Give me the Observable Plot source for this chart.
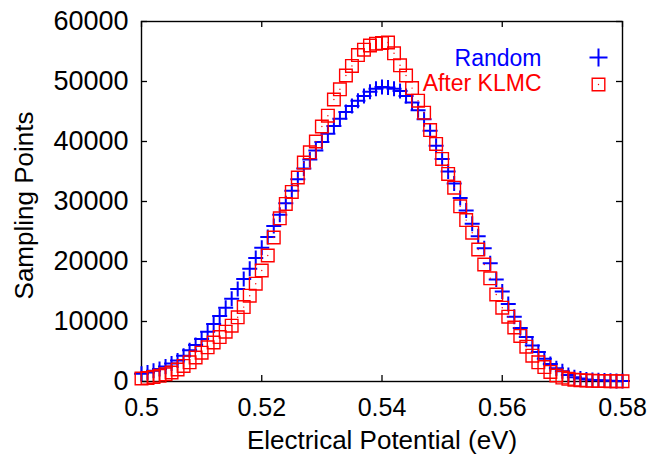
<!DOCTYPE html>
<html>
<head>
<meta charset="utf-8">
<script src="https://cdn.jsdelivr.net/npm/d3@7"></script>
<script src="https://cdn.jsdelivr.net/npm/@observablehq/plot@0.6"></script>
<style>
  html, body { margin: 0; padding: 0; background: #fff; }
</style>
</head>
<body>
<div id="chart"></div>
<script>
const potential = [
  0.500, 0.501, 0.502, 0.503, 0.504, 0.505, 0.506, 0.507, 0.508, 0.509,
  0.510, 0.511, 0.512, 0.513, 0.514, 0.515, 0.516, 0.517, 0.518, 0.519,
  0.520, 0.521, 0.522, 0.523, 0.524, 0.525, 0.526, 0.527, 0.528, 0.529,
  0.530, 0.531, 0.532, 0.533, 0.534, 0.535, 0.536, 0.537, 0.538, 0.539,
  0.540, 0.541, 0.542, 0.543, 0.544, 0.545, 0.546, 0.547, 0.548, 0.549,
  0.550, 0.551, 0.552, 0.553, 0.554, 0.555, 0.556, 0.557, 0.558, 0.559,
  0.560, 0.561, 0.562, 0.563, 0.564, 0.565, 0.566, 0.567, 0.568, 0.569,
  0.570, 0.571, 0.572, 0.573, 0.574, 0.575, 0.576, 0.577, 0.578, 0.579,
  0.580
];
const randomPoints = [
  1300, 1500, 1800, 2100, 2500, 3000, 3500, 4300, 5200, 6100,
  7100, 8300, 9600, 10900, 12300, 13800, 15400, 17100, 18800, 20600,
  22300, 24100, 25900, 27800, 29700, 31800, 33700, 35500, 37000, 38500,
  39900, 41300, 42600, 43800, 44900, 45900, 46800, 47600, 48300, 48800,
  49100, 49000, 48800, 48400, 47600, 46500, 45200, 43700, 41800, 39300,
  37100, 35000, 33000, 30600, 28500, 26300, 24200, 22200, 19700, 17000,
  15000, 12900, 10800, 8900, 7400, 6000, 4900, 3800, 2900, 2200,
  1700, 1100, 700, 500, 350, 250, 200, 150, 120, 100,
  80
];
const klmcPoints = [
  500, 600, 750, 950, 1200, 1500, 2000, 2600, 3200, 4000,
  4800, 5700, 6500, 7400, 8300, 9300, 10700, 12400, 14300, 16300,
  18500, 21000, 24000, 27200, 29600, 31600, 34000, 36500, 38200, 40000,
  42500, 44300, 47000, 48700, 51000, 52600, 54400, 55300, 56000, 56300,
  56400, 56500, 54700, 52700, 51000, 48900, 46800, 44800, 41900, 39600,
  37100, 34600, 32300, 29200, 26900, 24800, 22000, 19500, 17200, 14500,
  12300, 10800, 9000, 7600, 5800, 4300, 3200, 2400, 1600, 1000,
  650, 450, 300, 220, 160, 120, 100, 80, 60, 50,
  40
];
const xTicks = [0.50, 0.52, 0.54, 0.56, 0.58];
const xTickLabels = ["0.5", "0.52", "0.54", "0.56", "0.58"];
const yTicks = [0, 10000, 20000, 30000, 40000, 50000, 60000];
const yTickLabels = ["0", "10000", "20000", "30000", "40000", "50000", "60000"];
const seriesNames = ["Random", "After KLMC"];
const xTitle = "Electrical Potential (eV)";
const yTitle = "Sampling Points";

const BLUE = "#0000ff";
const RED = "#ff0000";

const randomData = potential.map((p, i) => ({p, v: randomPoints[i]}));
const klmcData = potential.map((p, i) => ({p, v: klmcPoints[i]}));

const plusSym = {draw(ctx, size) {
  const r = Math.sqrt(size / Math.PI);
  ctx.moveTo(-r, 0); ctx.lineTo(r, 0);
  ctx.moveTo(0, -r); ctx.lineTo(0, r);
}};
const squareSym = {draw(ctx, size) {
  const r = Math.sqrt(size / Math.PI);
  ctx.rect(-r, -r, 2 * r, 2 * r);
}};

const W = 647, H = 460, ML = 141, MR = 25, MT = 21, MB = 79;
const FW = W - ML - MR, FH = H - MT - MB;

const chart = Plot.plot({
  width: W,
  height: H,
  marginLeft: ML,
  marginRight: MR,
  marginTop: MT,
  marginBottom: MB,
  style: {fontFamily: "'Liberation Sans', Arial, Helvetica, sans-serif", fontSize: "24px", background: "#fff", color: "#000"},
  x: {domain: [0.5, 0.58]},
  y: {domain: [0, 60000]},
  marks: [
    // tick labels
    Plot.axisX({ticks: xTicks, tickSize: 0, tickPadding: 17, tickFormat: (d) => xTickLabels[xTicks.indexOf(d)], label: null, fontSize: 25}),
    Plot.axisY({ticks: yTicks, tickSize: 0, tickPadding: 13, tickFormat: (d) => yTickLabels[yTicks.indexOf(d)], label: null, fontSize: 27}),
    // inward tick marks on all four sides
    Plot.ruleX(xTicks, {x: d => d, insetTop: FH - 6, stroke: "#000", strokeWidth: 1.3}),
    Plot.ruleX(xTicks, {x: d => d, insetBottom: FH - 6, stroke: "#000", strokeWidth: 1.3}),
    Plot.ruleY(yTicks, {y: d => d, insetRight: FW - 6, stroke: "#000", strokeWidth: 1.3}),
    Plot.ruleY(yTicks, {y: d => d, insetLeft: FW - 6, stroke: "#000", strokeWidth: 1.3}),
    Plot.frame({stroke: "#000", strokeWidth: 1.4}),
    // data
    Plot.dot(randomData, {x: "p", y: "v", symbol: plusSym, r: 7.5, stroke: BLUE, strokeWidth: 2, fill: "none"}),
    Plot.dot(klmcData, {x: "p", y: "v", symbol: squareSym, r: 6.3, stroke: RED, strokeWidth: 1.4, fill: "none"}),
    Plot.dot(klmcData, {x: "p", y: "v", r: 0.7, fill: RED, stroke: null}),
    // axis titles
    Plot.text([xTitle], {text: d => d, frameAnchor: "bottom", dy: 59, textAnchor: "middle", lineAnchor: "middle", fontSize: 26}),
    Plot.text([yTitle], {text: d => d, frameAnchor: "left", dx: -117, dy: 4, rotate: -90, textAnchor: "middle", lineAnchor: "middle", fontSize: 26}),
    // legend
    Plot.text([seriesNames[0]], {text: d => d, frameAnchor: "top-right", dx: -81, dy: 37, textAnchor: "end", lineAnchor: "middle", fill: BLUE, fontSize: 23}),
    Plot.text([seriesNames[1]], {text: d => d, frameAnchor: "top-right", dx: -81, dy: 62, textAnchor: "end", lineAnchor: "middle", fill: RED, fontSize: 23}),
    Plot.dot([0], {frameAnchor: "top-right", dx: -24, dy: 36, symbol: plusSym, r: 9, stroke: BLUE, strokeWidth: 2, fill: "none"}),
    Plot.dot([0], {frameAnchor: "top-right", dx: -24, dy: 63, symbol: squareSym, r: 6.3, stroke: RED, strokeWidth: 1.4, fill: "none"}),
    Plot.dot([0], {frameAnchor: "top-right", dx: -24, dy: 63, r: 0.7, fill: RED, stroke: null})
  ]
});
document.getElementById("chart").appendChild(chart);
</script>
</body>
</html>
